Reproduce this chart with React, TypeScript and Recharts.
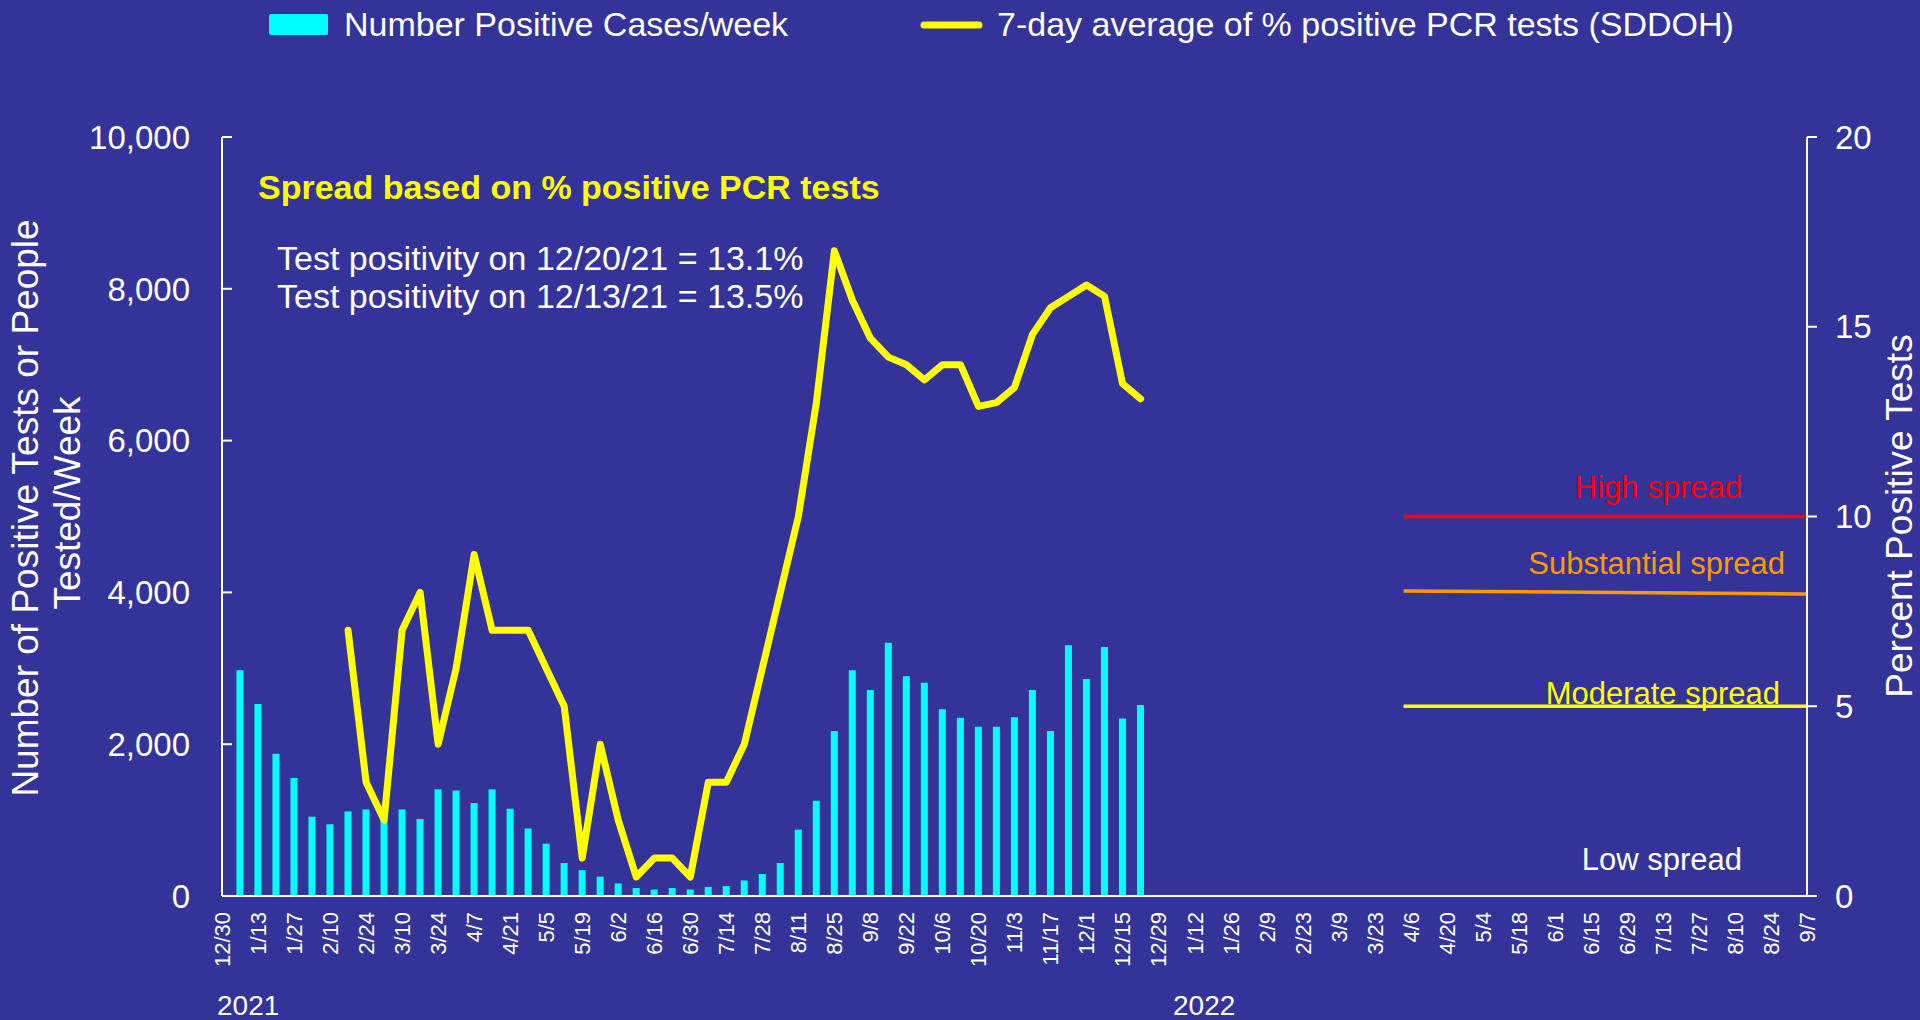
import React from 'react';
import { ComposedChart, Bar, Line, XAxis, YAxis } from 'recharts';

// weekly positions: week 0 = 12/30/2020 ... week 88 = 9/7/2022
const tickLabels = ['12/30','1/13','1/27','2/10','2/24','3/10','3/24','4/7','4/21','5/5','5/19','6/2','6/16','6/30','7/14','7/28','8/11','8/25','9/8','9/22','10/6','10/20','11/3','11/17','12/1','12/15','12/29','1/12','1/26','2/9','2/23','3/9','3/23','4/6','4/20','5/4','5/18','6/1','6/15','6/29','7/13','7/27','8/10','8/24','9/7'];

// Number Positive Cases/week, weeks 1..51 (1/6/21 .. 12/22/21)
const casesFirstWeek = 1;
const cases = [2975, 2530, 1875, 1555, 1045, 945, 1115, 1140, 1000, 1140, 1015, 1405, 1390, 1225, 1405, 1150, 890, 690, 435, 340, 255, 165, 105, 85, 105, 85, 120, 130, 205, 290, 435, 875, 1255, 2175, 2975, 2715, 3335, 2895, 2810, 2460, 2350, 2230, 2230, 2355, 2715, 2175, 3305, 2860, 3280, 2340, 2515];

// 7-day average % positive PCR tests, weeks 7..51
const pctFirstWeek = 7;
const pct = [7, 3, 2, 7, 8, 4, 6, 9, 7, 7, 7, 6, 5, 1, 4, 2, 0.5, 1, 1, 0.5, 3, 3, 4, 6, 8, 10, 13, 17, 15.7, 14.7, 14.2, 14.0, 13.6, 14.0, 14.0, 12.9, 13.0, 13.4, 14.8, 15.5, 15.8, 16.1, 15.8, 13.5, 13.1];

// spread thresholds (start week, end week, values)
const thresholdWeeks = [65.6, 88];
const highSpread = [10, 10];
const substantialSpread = [8.04, 7.96];
const moderateSpread = [5, 5];

const leftTicks = [0, 2000, 4000, 6000, 8000, 10000];
const rightTicks = [0, 5, 10, 15, 20];
const TOTAL_WEEKS = 88;

const data = Array.from({ length: TOTAL_WEEKS + 1 }, (_, w) => ({
  w,
  cases: w >= casesFirstWeek && w - casesFirstWeek < cases.length ? cases[w - casesFirstWeek] : null,
  pct: w >= pctFirstWeek && w - pctFirstWeek < pct.length ? pct[w - pctFirstWeek] : null,
}));
const mk = (vals: number[]) => thresholdWeeks.map((w, i) => ({ w, v: vals[i] }));
const highData = mk(highSpread);
const substData = mk(substantialSpread);
const modData = mk(moderateSpread);
const xTicks = tickLabels.map((_, i) => i * 2);

const BG = '#333399';
const FONT = '"Liberation Sans", Arial, sans-serif';

const XTick = (props: any) => {
  const { x, y, payload } = props;
  const label = tickLabels[Math.round(payload.value / 2)];
  return (
    <text x={x} y={y} dy="0.36em" transform={`rotate(-90, ${x}, ${y})`} textAnchor="end" fill="#fff" fontSize={22} fontFamily={FONT}>
      {label}
    </text>
  );
};

export default function App() {
  return (
    <div style={{ position: 'absolute', left: 0, top: 0, width: 1920, height: 1020, background: BG, fontFamily: FONT }}>
      <ComposedChart width={1920} height={1020} data={data} margin={{ top: 137, right: 0, bottom: 0, left: 0 }}>
        <XAxis
          dataKey="w"
          type="number"
          domain={[0, TOTAL_WEEKS]}
          ticks={xTicks}
          interval={0}
          height={124}
          tickLine={false}
          tickSize={0}
          tickMargin={16}
          axisLine={{ stroke: '#ffffff', strokeWidth: 2 }}
          tick={<XTick />}
          allowDataOverflow
        />
        <YAxis
          yAxisId="left"
          domain={[0, 10000]}
          ticks={leftTicks}
          interval={0}
          width={222}
          tickSize={-10}
          tickMargin={42}
          tickFormatter={(v: number) => v.toLocaleString('en-US')}
          axisLine={{ stroke: '#ffffff', strokeWidth: 2 }}
          tickLine={{ stroke: '#ffffff', strokeWidth: 2 }}
          tick={{ fill: '#ffffff', fontSize: 33, fontFamily: FONT }}
        />
        <YAxis
          yAxisId="right"
          orientation="right"
          domain={[0, 20]}
          ticks={rightTicks}
          interval={0}
          width={113}
          tickSize={10}
          tickMargin={18}
          axisLine={{ stroke: '#ffffff', strokeWidth: 2 }}
          tickLine={{ stroke: '#ffffff', strokeWidth: 2 }}
          tick={{ fill: '#ffffff', fontSize: 33, fontFamily: FONT }}
        />
        <Bar yAxisId="left" dataKey="cases" fill="#00FFFF" barSize={7} isAnimationActive={false} />
        <Line yAxisId="right" data={highData} dataKey="v" stroke="#FF0000" strokeWidth={3.5} dot={false} isAnimationActive={false} />
        <Line yAxisId="right" data={substData} dataKey="v" stroke="#FF9900" strokeWidth={3.5} dot={false} isAnimationActive={false} />
        <Line yAxisId="right" data={modData} dataKey="v" stroke="#FFFF00" strokeWidth={3.5} dot={false} isAnimationActive={false} />
        <Line yAxisId="right" dataKey="pct" stroke="#FFFF00" strokeWidth={7} dot={false} strokeLinejoin="round" strokeLinecap="round" isAnimationActive={false} />
      </ComposedChart>
      <svg width={1920} height={1020} style={{ position: 'absolute', left: 0, top: 0, pointerEvents: 'none' }} fontFamily={FONT}>
        {/* legend */}
        <rect x={269} y={14} width={59} height={21} rx={2} fill="#00FFFF" />
        <text x={344} y={36} fill="#fff" fontSize={34}>Number Positive Cases/week</text>
        <line x1={924} y1={25} x2={979} y2={25} stroke="#FFFF00" strokeWidth={7} strokeLinecap="round" />
        <text x={997} y={36} fill="#fff" fontSize={34}>7-day average of % positive PCR tests (SDDOH)</text>
        {/* annotations */}
        <text x={258} y={199} fill="#FFFF00" fontSize={34} fontWeight="bold">Spread based on % positive PCR tests</text>
        <text x={277} y={270} fill="#fff" fontSize={34}>Test positivity on 12/20/21 = 13.1%</text>
        <text x={277} y={308} fill="#fff" fontSize={34}>Test positivity on 12/13/21 = 13.5%</text>
        <text x={1742} y={498} fill="#FF0000" fontSize={31} textAnchor="end">High spread</text>
        <text x={1785} y={574} fill="#FF9900" fontSize={31} textAnchor="end">Substantial spread</text>
        <text x={1780} y={704} fill="#FFFF00" fontSize={31} textAnchor="end">Moderate spread</text>
        <text x={1742} y={870} fill="#ffffff" fontSize={31} textAnchor="end">Low spread</text>
        {/* years */}
        <text x={217} y={1015} fill="#fff" fontSize={28}>2021</text>
        <text x={1173} y={1015} fill="#fff" fontSize={28}>2022</text>
        {/* axis titles */}
        <text x={38} y={508} transform="rotate(-90, 38, 508)" textAnchor="middle" fill="#fff" fontSize={37}>Number of Positive Tests or People</text>
        <text x={80} y={503} transform="rotate(-90, 80, 503)" textAnchor="middle" fill="#fff" fontSize={37}>Tested/Week</text>
        <text x={1912} y={516} transform="rotate(-90, 1912, 516)" textAnchor="middle" fill="#fff" fontSize={37}>Percent Positive Tests</text>
      </svg>
    </div>
  );
}
